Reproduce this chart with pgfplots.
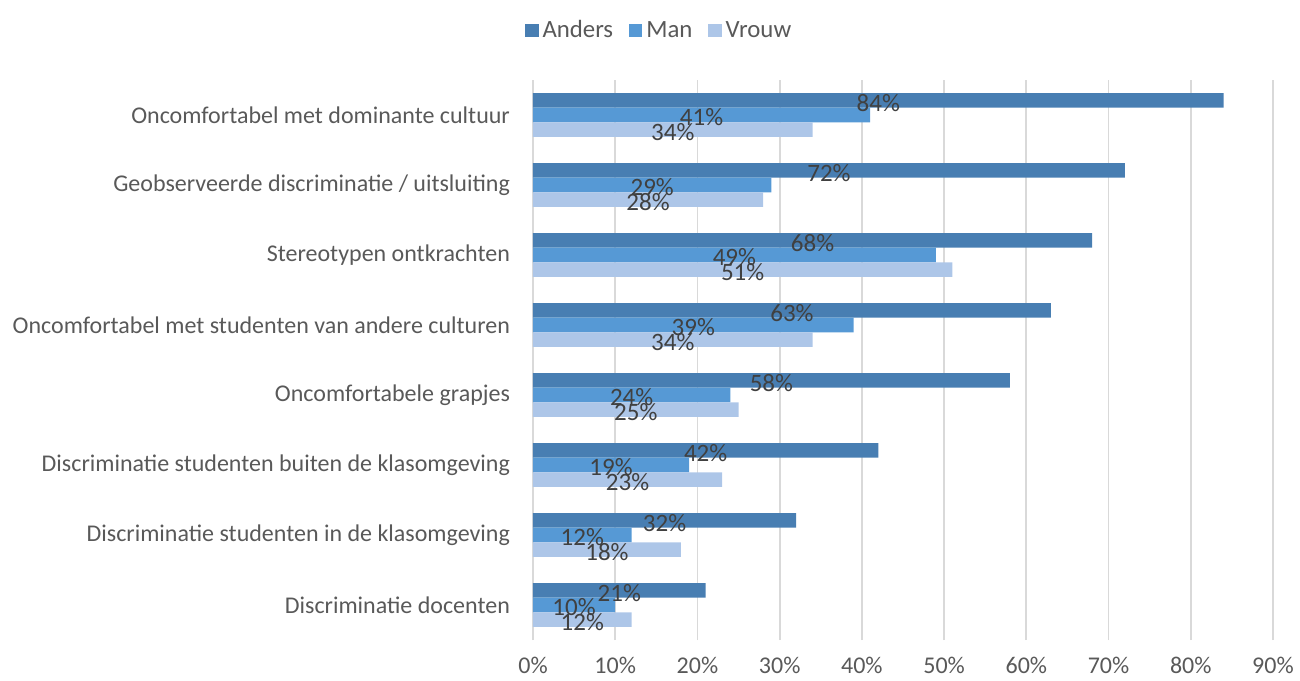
\documentclass[border=0pt]{standalone}
\usepackage{fontspec}
\setmainfont{Carlito}
\usepackage{pgfplots}
\pgfplotsset{compat=1.18}

\definecolor{cAnders}{RGB}{72,126,178}
\definecolor{cMan}{RGB}{86,153,213}
\definecolor{cVrouw}{RGB}{173,198,232}
\definecolor{txt}{RGB}{89,89,89}
\definecolor{lbl}{RGB}{64,64,64}
\definecolor{grd}{RGB}{217,217,217}

% rows from bottom (0) to top (7)
\pgfplotstableread{
y anders man vrouw
0 21 10 12
1 32 12 18
2 42 19 23
3 58 24 25
4 63 39 34
5 68 49 51
6 72 29 28
7 84 41 34
}\data

\begin{document}
\begin{tikzpicture}
\begin{axis}[
  at={(0,0)}, anchor=south west,
  scale only axis, width=370pt, height=280pt,
  xmin=0, xmax=90, ymin=-0.5, ymax=7.5,
  xtick={0,10,...,90},
  xticklabel={\pgfmathprintnumber{\tick}\%},
  ytick={0,...,7},
  yticklabels={Discriminatie docenten,
    Discriminatie studenten in de klasomgeving,
    Discriminatie studenten buiten de klasomgeving,
    Oncomfortabele grapjes,
    Oncomfortabel met studenten van andere culturen,
    Stereotypen ontkrachten,
    Geobserveerde discriminatie / uitsluiting,
    Oncomfortabel met dominante cultuur},
  /pgf/number format/assume math mode=true,
  major tick length=0pt,
  axis line style={draw=none},
  xmajorgrids, grid style={grd, line width=0.9pt},
  tick label style={font=\fontsize{12}{14}\selectfont, text=txt},
  yticklabel style={xshift=-8pt},
  xticklabel style={yshift=-5pt},
  xbar, bar width=7.3pt,
  every axis plot/.append style={draw=none},
  nodes near coords={\pgfmathprintnumber{\pgfplotspointmeta}\%},
  visualization depends on={x \as \rawx},
  every node near coord/.append style={anchor=center, inner sep=0pt,
    font=\fontsize{12.5}{14}\selectfont, text=lbl,
    xshift={-\rawx*2.0556pt}, yshift=-1.2pt},
  legend columns=-1,
  legend style={at={(0.172,1.088)}, anchor=center, draw=none,
    font=\fontsize{12.4}{14}\selectfont, text=txt,
    /tikz/every even column/.append style={column sep=6pt}},
  legend image code/.code={\path[#1,draw=none] (0pt,-3.3pt) rectangle (6.6pt,3.3pt);},
]
\addplot[fill=cAnders, bar shift=7.3pt] table[x=anders, y=y] {\data};
\addplot[fill=cMan, bar shift=0pt] table[x=man, y=y] {\data};
\addplot[fill=cVrouw, bar shift=-7.3pt] table[x=vrouw, y=y] {\data};
\legend{Anders, Man, Vrouw}
\end{axis}
\pgfresetboundingbox
\path (-266.5pt,-20pt) rectangle (383.5pt,320pt);
\end{tikzpicture}
\end{document}
